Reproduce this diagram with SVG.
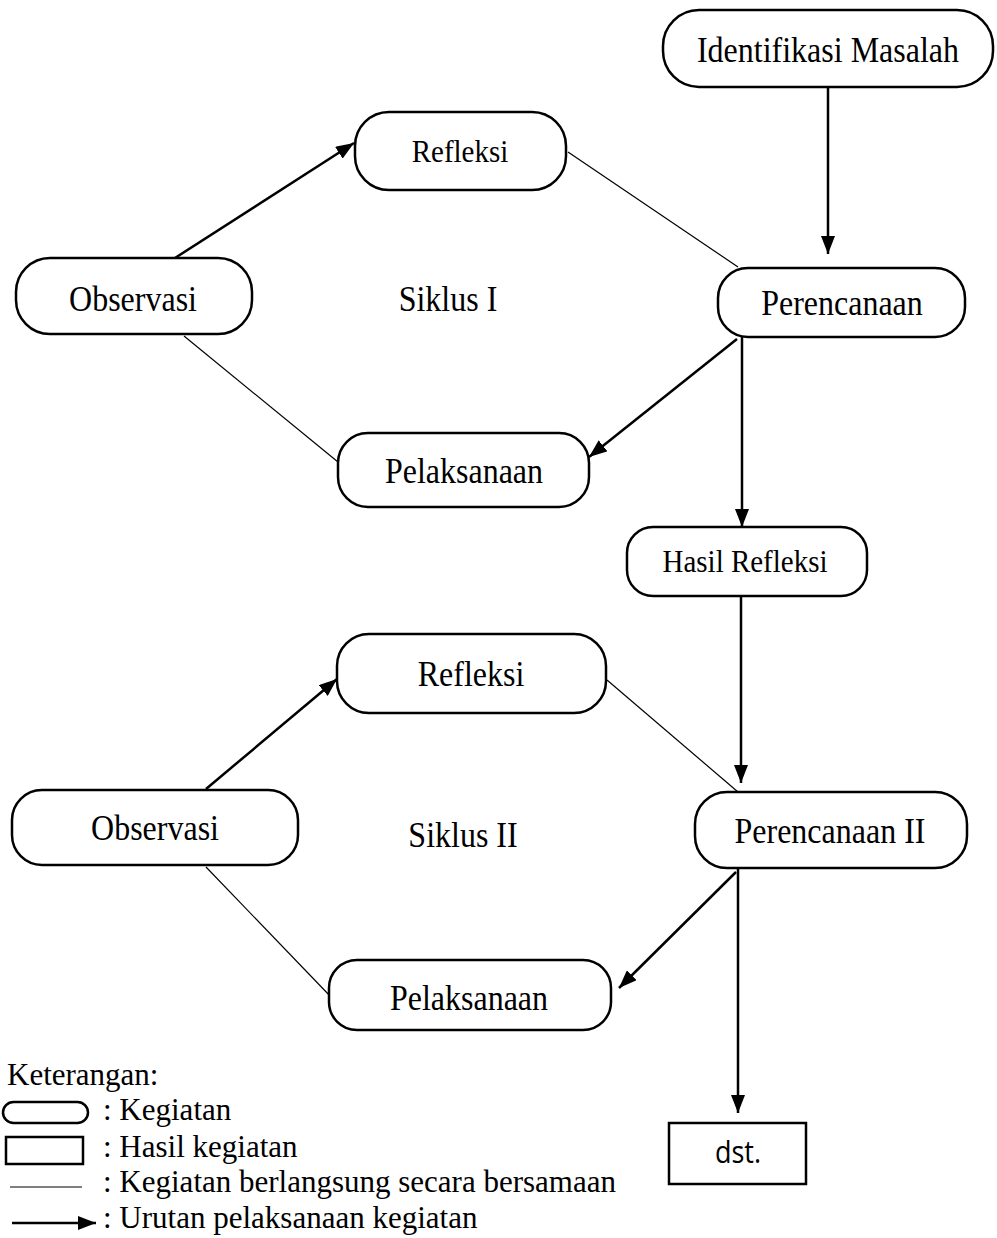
<svg xmlns="http://www.w3.org/2000/svg" width="997" height="1238" viewBox="0 0 997 1238">
<style>
.box{fill:#fff;stroke:#000;stroke-width:2.5}
.t{font-family:"Liberation Serif","Times New Roman",serif;font-size:32px;fill:#000;text-anchor:middle}
.lt{font-family:"Liberation Serif","Times New Roman",serif;font-size:31px;fill:#000}
.thick{stroke:#000;stroke-width:2.5;fill:none}
.thin{stroke:#000;stroke-width:1.2;fill:none}
</style>
<defs>
<marker id="ah" markerUnits="userSpaceOnUse" viewBox="0 0 18 14" refX="18" refY="7" markerWidth="18" markerHeight="14" orient="auto">
<path d="M0,0 L18,7 L0,14 z" fill="#000"/>
</marker>
</defs>
<rect width="997" height="1238" fill="#fff"/>
<g id="connectors">
<line class="thick" x1="828" y1="87" x2="828" y2="254" marker-end="url(#ah)"/>
<line class="thick" x1="175" y1="258" x2="354" y2="143" marker-end="url(#ah)"/>
<line class="thin" x1="568" y1="152" x2="738" y2="267"/>
<line class="thin" x1="184" y1="336" x2="338" y2="462"/>
<line class="thick" x1="737" y1="339" x2="589" y2="457" marker-end="url(#ah)"/>
<line class="thick" x1="742" y1="337" x2="742" y2="527" marker-end="url(#ah)"/>
<line class="thick" x1="741" y1="596" x2="741" y2="783" marker-end="url(#ah)"/>
<line class="thick" x1="206" y1="789" x2="337" y2="679" marker-end="url(#ah)"/>
<line class="thin" x1="607" y1="680" x2="738" y2="792"/>
<line class="thin" x1="206" y1="867" x2="331" y2="997"/>
<line class="thick" x1="736" y1="872" x2="619" y2="988" marker-end="url(#ah)"/>
<line class="thick" x1="738" y1="868" x2="738" y2="1113" marker-end="url(#ah)"/>
</g>
<g id="identifikasi"><rect class="box" x="663" y="10" width="330" height="77" rx="36"/><text class="t" transform="translate(828,62) scale(1,1.12)">Identifikasi Masalah</text></g>
<g id="refleksi1"><rect class="box" x="355" y="112" width="211" height="78" rx="34"/><text class="t" transform="translate(460,162) scale(1,1.12)" style="font-size:29px">Refleksi</text></g>
<g id="observasi1"><rect class="box" x="16" y="258" width="236" height="76" rx="34"/><text class="t" transform="translate(133,311) scale(1,1.12)">Observasi</text></g>
<g id="siklus1"><text class="t" transform="translate(448,311) scale(1,1.12)">Siklus I</text></g>
<g id="perencanaan1"><rect class="box" x="718" y="268" width="247" height="69" rx="30"/><text class="t" transform="translate(842,315) scale(1,1.12)">Perencanaan</text></g>
<g id="pelaksanaan1"><rect class="box" x="338" y="433" width="251" height="74" rx="30"/><text class="t" transform="translate(464,483) scale(1,1.12)">Pelaksanaan</text></g>
<g id="hasil"><rect class="box" x="627" y="527" width="240" height="69" rx="26"/><text class="t" transform="translate(745,572) scale(1,1.12)" style="font-size:29px">Hasil Refleksi</text></g>
<g id="refleksi2"><rect class="box" x="337" y="634" width="269" height="79" rx="32"/><text class="t" transform="translate(471,686) scale(1,1.12)">Refleksi</text></g>
<g id="observasi2"><rect class="box" x="12" y="790" width="286" height="75" rx="30"/><text class="t" transform="translate(155,840) scale(1,1.12)">Observasi</text></g>
<g id="siklus2"><text class="t" transform="translate(463,847) scale(1,1.12)">Siklus II</text></g>
<g id="perencanaan2"><rect class="box" x="695" y="792" width="272" height="76" rx="32"/><text class="t" transform="translate(830,843) scale(1,1.12)">Perencanaan II</text></g>
<g id="pelaksanaan2"><rect class="box" x="329" y="960" width="282" height="70" rx="28"/><text class="t" transform="translate(469,1010) scale(1,1.12)">Pelaksanaan</text></g>
<g id="dst"><rect class="box" x="669" y="1123" width="137" height="61"/><text class="t" transform="translate(738,1163) scale(1,1.15)" style="font-family:'Open Sans','Liberation Sans',sans-serif;font-size:27px">dst.</text></g>
<g id="legend">
<text class="lt" x="7" y="1085">Keterangan:</text>
<rect class="box" x="3" y="1102" width="85" height="21" rx="10.5"/>
<text class="lt" x="103" y="1120">: Kegiatan</text>
<rect class="box" x="6" y="1137" width="77" height="27"/>
<text class="lt" x="103" y="1157">: Hasil kegiatan</text>
<line class="thin" x1="10" y1="1187" x2="82" y2="1187"/>
<text class="lt" x="103" y="1192">: Kegiatan berlangsung secara bersamaan</text>
<line class="thick" x1="12" y1="1223" x2="96" y2="1223" marker-end="url(#ah)"/>
<text class="lt" x="103" y="1228">: Urutan pelaksanaan kegiatan</text>
</g>
</svg>
